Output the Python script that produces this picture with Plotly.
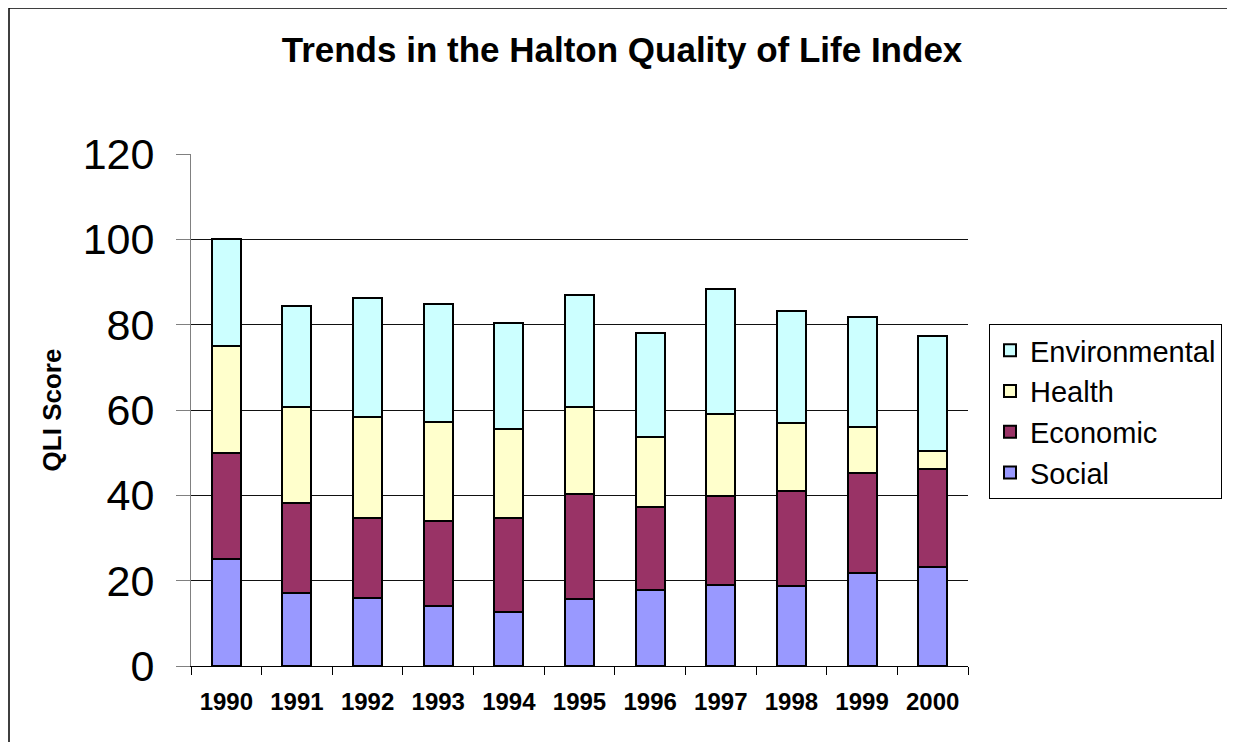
import plotly.graph_objects as go

years = ["1990", "1991", "1992", "1993", "1994", "1995", "1996", "1997", "1998", "1999", "2000"]
social = [25.0, 17.2, 15.9, 14.1, 12.6, 15.7, 17.8, 19.1, 18.75, 21.7, 23.3]
economic = [25.0, 20.9, 18.7, 19.9, 22.0, 24.5, 19.5, 20.8, 22.15, 23.5, 22.8]
health = [25.0, 22.7, 23.7, 23.3, 21.0, 20.6, 16.3, 19.2, 16.0, 10.9, 4.3]
environmental = [25.0, 23.6, 28.0, 27.5, 24.9, 26.2, 24.5, 29.2, 26.4, 25.6, 27.0]

series = [
    ("Social", social, "#9999FF"),
    ("Economic", economic, "#993366"),
    ("Health", health, "#FFFFCC"),
    ("Environmental", environmental, "#CCFFFF"),
]

FONT = "Liberation Sans, Arial, sans-serif"

fig = go.Figure()
for name, vals, color in series:
    fig.add_trace(go.Bar(
        x=years, y=vals, name=name,
        marker=dict(color=color, line=dict(color="black", width=2)),
    ))

# page has an 8px body margin; figure coords = page coords - 8
OFF = 8
W, H = 1235 - OFF, 742 - OFF
L = 191 - OFF
T = 154 - OFF
R = W - (968 - OFF)
B = H - (666 - OFF)
pw, ph = W - L - R, H - T - B

def px_x(p):
    return (p - OFF - L) / pw

def px_y(p):
    return (H - B - (p - OFF)) / ph

fig.update_layout(
    width=W, height=H,
    margin=dict(l=L, r=R, t=T, b=B, autoexpand=False),
    barmode="stack",
    bargap=0.59,
    paper_bgcolor="white",
    plot_bgcolor="white",
    font=dict(family=FONT, color="black"),
    title=dict(
        text="<b>Trends in the Halton Quality of Life Index</b>",
        font=dict(size=35, family=FONT, color="black"),
        x=(622 - OFF) / W, xref="container", xanchor="center",
        y=1 - (50 - OFF) / H, yref="container", yanchor="middle",
    ),
    xaxis=dict(
        type="category",
        tickson="boundaries",
        ticks="outside", ticklen=8, tickcolor="black", tickwidth=1,
        showline=True, linecolor="black", linewidth=1,
        showgrid=False,
        tickfont=dict(size=24, family=FONT, color="black"),
        tickprefix="<b>", ticksuffix="</b>",
        ticklabelstandoff=14,
    ),
    yaxis=dict(
        range=[0, 120], dtick=20, tick0=0,
        ticks="outside", ticklen=14, tickcolor="#808080", tickwidth=1,
        showline=True, linecolor="#808080", linewidth=1,
        showgrid=True, gridcolor="#111111", gridwidth=1,
        zeroline=False,
        tickfont=dict(size=43, family=FONT, color="black"),
        ticklabelstandoff=13,
        title=dict(text="<b>QLI Score</b>", font=dict(size=26, family=FONT, color="black"), standoff=13),
    ),
    legend=dict(
        traceorder="reversed",
        x=px_x(989), xanchor="left",
        y=px_y(324), yanchor="top",
        bordercolor="black", borderwidth=1,
        bgcolor="white",
        font=dict(size=29, family=FONT, color="black"),
        tracegroupgap=0,
    ),
    shapes=[dict(
        type="rect", xref="paper", yref="paper",
        x0=px_x(9), x1=px_x(1234), y0=px_y(745), y1=px_y(8),
        line=dict(color="#000000", width=1.5), fillcolor="rgba(0,0,0,0)", layer="below",
    )],
)

fig.write_html("out.html")
